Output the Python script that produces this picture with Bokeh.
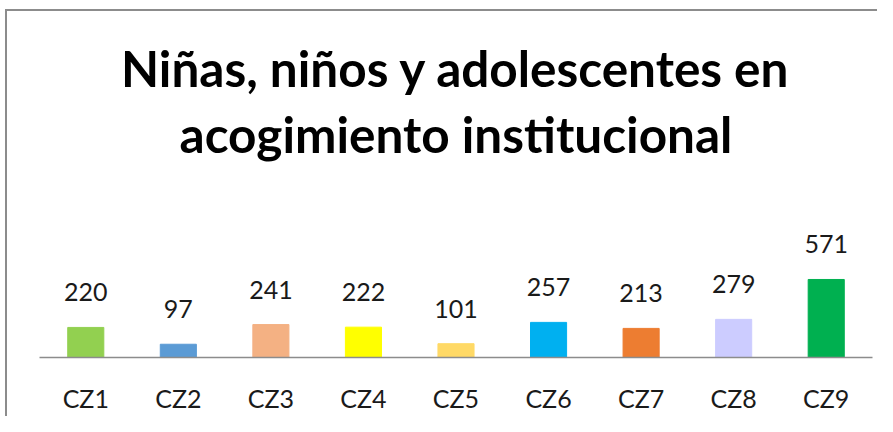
from bokeh.plotting import figure
from bokeh.models import ColumnDataSource, Range1d, Title, FactorRange
from bokeh.core.properties import value
from bokeh.embed import file_html
from bokeh.resources import INLINE

categories = ["CZ1", "CZ2", "CZ3", "CZ4", "CZ5", "CZ6", "CZ7", "CZ8", "CZ9"]
values = [220, 97, 241, 222, 101, 257, 213, 279, 571]
colors = ["#92D050", "#5B9BD5", "#F4B183", "#FFFF00", "#FFD966",
          "#00B0F0", "#ED7D31", "#CCCCFF", "#00B050"]
title_lines = ["Niñas, niños y adolescentes en", "acogimiento institucional"]

src = ColumnDataSource(dict(cat=categories, val=values, col=colors,
                            lab=[str(v) for v in values]))

border_css = ("linear-gradient(#8c8c8c, #8c8c8c) 5px 9px / 2px 100% no-repeat, "
              "linear-gradient(#8c8c8c, #8c8c8c) 5px 9px / 100% 2px no-repeat, #ffffff")

p = figure(x_range=FactorRange(*categories, range_padding=0),
           y_range=Range1d(0, 1405),
           width=877, height=416, output_backend="svg", toolbar_location=None,
           min_border_left=39, min_border_right=5, min_border_bottom=59,
           min_border_top=165,
           styles={"background": border_css})

p.vbar(x="cat", top="val", width=0.39, color="col", source=src)
p.text(x="cat", y="val", text="lab", source=src, text_align="center",
       text_baseline="alphabetic", y_offset=-35,
       text_font=value("Lato"), text_font_size="25px", text_color="#1a1a1a")

standoffs = [4, 4]
for line, so in reversed(list(zip(title_lines, standoffs))):
    p.add_layout(Title(text=line, align="center", text_font="Lato",
                       text_font_style="bold", text_font_size="49.5px",
                       text_color="black", standoff=so), "above")

p.yaxis.visible = False
p.xgrid.visible = False
p.ygrid.visible = False
p.outline_line_color = None
p.xaxis.axis_line_color = "#8c8c8c"
p.xaxis.axis_line_width = 1.5
p.xaxis.major_tick_line_color = None
p.xaxis.minor_tick_line_color = None
p.xaxis.major_label_text_font = "Lato"
p.xaxis.major_label_text_font_size = "25px"
p.xaxis.major_label_text_color = "#1a1a1a"
p.xaxis.major_label_standoff = 19
p.background_fill_color = None
p.border_fill_color = None

open("out.html", "w").write(file_html(p, INLINE))
